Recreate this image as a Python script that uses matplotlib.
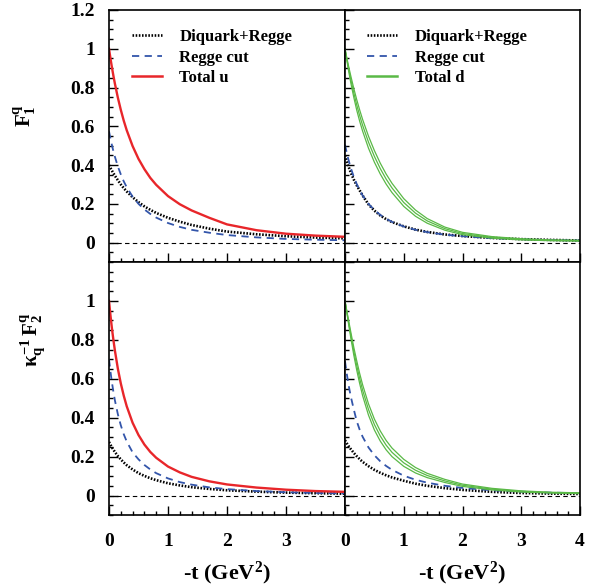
import numpy as np
import matplotlib
matplotlib.use("Agg")
import matplotlib.pyplot as plt
from matplotlib.lines import Line2D
from matplotlib.ticker import MultipleLocator, FuncFormatter

plt.rcParams['font.family'] = ['Liberation Serif', 'DejaVu Serif']
plt.rcParams['font.weight'] = 'bold'
plt.rcParams['mathtext.fontset'] = 'custom'
plt.rcParams['mathtext.rm'] = 'Liberation Serif:bold'
plt.rcParams['mathtext.it'] = 'Liberation Serif:bold'
plt.rcParams['mathtext.bf'] = 'Liberation Serif:bold'

# -t values (GeV^2) where the curves were read
t = [0, 0.025, 0.05, 0.075, 0.1, 0.15, 0.2, 0.25, 0.3, 0.4, 0.5, 0.6, 0.7, 0.8,
     1.0, 1.2, 1.4, 1.7, 2.0, 2.5, 3.0, 3.5, 4.0]

# F1, u quark
u_f1_dq = [0.40, 0.385, 0.371, 0.358, 0.345, 0.322, 0.300, 0.281, 0.264, 0.234, 0.209, 0.187, 0.169, 0.153,
           0.128, 0.108, 0.091, 0.072, 0.057, 0.043, 0.033, 0.026, 0.022]
u_f1_cut = [0.574, 0.536, 0.502, 0.471, 0.443, 0.393, 0.352, 0.316, 0.286, 0.237, 0.200, 0.171, 0.148, 0.129,
            0.101, 0.081, 0.066, 0.051, 0.039, 0.027, 0.019, 0.015, 0.012]
u_f1_tot = [1.0, 0.950, 0.903, 0.860, 0.820, 0.748, 0.685, 0.629, 0.580, 0.498, 0.432, 0.379, 0.334, 0.298,
            0.240, 0.198, 0.166, 0.128, 0.094, 0.064, 0.046, 0.036, 0.030]

# F1, d quark (total with its error band half-width)
d_f1_dq = [0.45, 0.425, 0.401, 0.380, 0.360, 0.325, 0.295, 0.269, 0.243, 0.197, 0.165, 0.140, 0.121, 0.106,
           0.084, 0.067, 0.055, 0.042, 0.034, 0.024, 0.018, 0.014, 0.011]
d_f1_cut = [0.505, 0.470, 0.438, 0.410, 0.384, 0.339, 0.302, 0.270, 0.243, 0.200, 0.168, 0.143, 0.123, 0.107,
            0.083, 0.066, 0.054, 0.041, 0.033, 0.023, 0.017, 0.013, 0.011]
d_f1_tot = [1.0, 0.957, 0.916, 0.877, 0.840, 0.772, 0.710, 0.655, 0.605, 0.518, 0.445, 0.382, 0.328, 0.282,
            0.207, 0.152, 0.112, 0.072, 0.047, 0.027, 0.017, 0.012, 0.010]
d_f1_err = [0, 0.005, 0.010, 0.014, 0.018, 0.023, 0.027, 0.029, 0.030, 0.031, 0.030, 0.028, 0.026, 0.024,
            0.020, 0.016, 0.012, 0.008, 0.006, 0.004, 0.003, 0.002, 0.002]

# kappa^-1 F2, u quark
u_f2_dq = [0.275, 0.261, 0.247, 0.235, 0.224, 0.203, 0.186, 0.170, 0.156, 0.134, 0.115, 0.101, 0.089, 0.079,
           0.063, 0.052, 0.043, 0.034, 0.027, 0.020, 0.015, 0.012, 0.0096]
u_f2_cut = [0.70, 0.636, 0.581, 0.532, 0.489, 0.418, 0.361, 0.315, 0.278, 0.222, 0.186, 0.157, 0.134, 0.115,
            0.088, 0.069, 0.056, 0.042, 0.033, 0.023, 0.017, 0.013, 0.011]
u_f2_tot = [1.0, 0.925, 0.858, 0.799, 0.745, 0.652, 0.576, 0.513, 0.459, 0.374, 0.311, 0.262, 0.224, 0.194,
            0.149, 0.119, 0.096, 0.073, 0.057, 0.041, 0.030, 0.023, 0.019]

# kappa^-1 F2, d quark
d_f2_dq = [0.284, 0.271, 0.259, 0.248, 0.238, 0.219, 0.202, 0.187, 0.173, 0.151, 0.132, 0.117, 0.104, 0.093,
           0.076, 0.061, 0.050, 0.038, 0.029, 0.019, 0.013, 0.010, 0.008]
d_f2_cut = [0.69, 0.636, 0.588, 0.545, 0.507, 0.442, 0.382, 0.338, 0.302, 0.247, 0.207, 0.176, 0.152, 0.132,
            0.102, 0.081, 0.066, 0.050, 0.039, 0.027, 0.020, 0.015, 0.012]
d_f2_tot = [1.0, 0.955, 0.910, 0.866, 0.823, 0.741, 0.668, 0.601, 0.541, 0.442, 0.365, 0.306, 0.259, 0.222,
            0.168, 0.130, 0.103, 0.075, 0.053, 0.033, 0.021, 0.015, 0.012]
d_f2_err = [0, 0.004, 0.008, 0.012, 0.015, 0.020, 0.024, 0.026, 0.028, 0.029, 0.028, 0.026, 0.024, 0.022,
            0.018, 0.014, 0.011, 0.008, 0.006, 0.004, 0.003, 0.002, 0.002]

RED = '#e8262a'
GREEN = '#5ab946'
BLUE = '#3355aa'
DOT = (0, (0.6, 0.6))
DASH = (0, (4, 3))

fig = plt.figure(figsize=(6.1, 5.86), dpi=100)
W, H = 610.0, 586.0

def box(x0, x1, y0, y1):
    return [x0 / W, 1 - y1 / H, (x1 - x0) / W, (y1 - y0) / H]

ax_tl = fig.add_axes(box(109, 345, 10, 262))
ax_tr = fig.add_axes(box(345, 580, 10, 262))
ax_bl = fig.add_axes(box(109, 345, 262, 515))
ax_br = fig.add_axes(box(345, 580, 262, 515))

fmt = FuncFormatter(lambda v, p: '%g' % v)

def draw(ax, dq, cut, tot, color, err=None):
    ax.axhline(0, color='black', lw=0.8, ls=(0, (4, 3)), zorder=1)
    ax.plot(t, dq, color='black', lw=1.9, ls=DOT)
    ax.plot(t, cut, color=BLUE, lw=1.3, ls=DASH)
    if err is None:
        ax.plot(t, tot, color=color, lw=1.7)
    else:
        tot = np.array(tot)
        err = np.array(err)
        ax.plot(t, tot + err, color=color, lw=0.9)
        ax.plot(t, tot - err, color=color, lw=0.9)
        ax.plot(t, tot, color=color, lw=0.9)
    ax.set_xlim(0, 4)
    ax.set_ylim(-0.1, 1.2)
    ax.xaxis.set_minor_locator(MultipleLocator(0.2))
    ax.yaxis.set_minor_locator(MultipleLocator(0.05))
    ax.set_yticks([0, 0.2, 0.4, 0.6, 0.8, 1.0, 1.2])
    ax.xaxis.set_major_formatter(fmt)
    ax.yaxis.set_major_formatter(fmt)
    ax.tick_params(which='both', direction='in', top=False, right=False, width=1, labelsize=14)
    ax.tick_params(which='major', length=6.5)
    ax.tick_params(which='minor', length=3)
    ax.tick_params(axis='y', pad=10)
    ax.tick_params(axis='x', pad=13)
    for s in ax.spines.values():
        s.set_linewidth(1.2)

draw(ax_tl, u_f1_dq, u_f1_cut, u_f1_tot, RED)
draw(ax_tr, d_f1_dq, d_f1_cut, d_f1_tot, GREEN, d_f1_err)
draw(ax_bl, u_f2_dq, u_f2_cut, u_f2_tot, RED)
draw(ax_br, d_f2_dq, d_f2_cut, d_f2_tot, GREEN, d_f2_err)

ax_tl.set_xticks([0, 1, 2, 3])
ax_tl.tick_params(labelbottom=False)
ax_tr.set_xticks([0, 1, 2, 3, 4])
ax_tr.tick_params(labelbottom=False, labelleft=False)
ax_bl.set_xticks([0, 1, 2, 3])
ax_bl.set_yticks([0, 0.2, 0.4, 0.6, 0.8, 1.0])
ax_br.set_xticks([0, 1, 2, 3, 4])
ax_br.tick_params(labelleft=False)

for ax, x0, name, color in [(ax_tl, 0.097, 'Total u', RED), (ax_tr, 0.094, 'Total d', GREEN)]:
    handles = [Line2D([], [], color='black', lw=1.9, ls=DOT),
               Line2D([], [], color=BLUE, lw=1.3, ls=DASH),
               Line2D([], [], color=color, lw=1.8)]
    ax.legend(handles, ['Diquark+Regge', 'Regge cut', name],
              loc='upper left', bbox_to_anchor=(x0, 0.925), frameon=False,
              prop={'family': 'Liberation Serif', 'weight': 'bold', 'size': 12},
              handlelength=1.8, handletextpad=1.05, labelspacing=0.28,
              borderpad=0, borderaxespad=0)

fig.text(25 / W, 1 - 115 / H, r'F$_{1}^{q}$', rotation=90, ha='center', va='center', fontsize=15)
fig.text(33 / W, 1 - 340 / H, r'$\kappa_{q}^{-1}\,$F$_{2}^{q}$', rotation=90, ha='center', va='center', fontsize=15)
fig.text(227 / W, 1 - 573 / H, r'-t (GeV$^{2}$)', ha='center', va='center', fontsize=16)
fig.text(462 / W, 1 - 573 / H, r'-t (GeV$^{2}$)', ha='center', va='center', fontsize=16)

fig.savefig('out.png', dpi=100)
